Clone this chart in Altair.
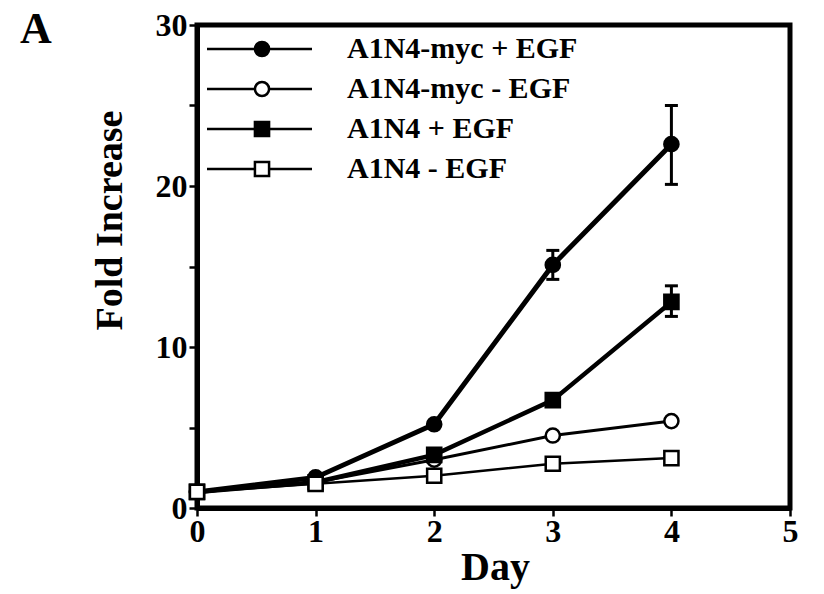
import altair as alt
import pandas as pd

# ---------------- data ----------------
series = ["A1N4-myc + EGF", "A1N4-myc - EGF", "A1N4 + EGF", "A1N4 - EGF"]
days = [0, 1, 2, 3, 4]
myc_egf = [1.0, 1.9, 5.2, 15.1, 22.6]
myc_noegf = [1.0, 1.6, 3.0, 4.5, 5.4]
a1n4_egf = [1.0, 1.6, 3.3, 6.7, 12.8]
a1n4_noegf = [1.0, 1.5, 2.0, 2.75, 3.1]

err_series = ["A1N4-myc + EGF", "A1N4-myc + EGF", "A1N4 + EGF"]
err_day = [3, 4, 4]
err_low = [14.2, 20.1, 11.9]
err_high = [16.0, 25.0, 13.8]

x_ticks = [0, 0.5, 1, 1.5, 2, 2.5, 3, 3.5, 4, 4.5, 5]
y_ticks = [0, 5, 10, 15, 20, 25, 30]

# ---------------- styles ----------------
FONT = "Liberation Serif"
shapes = ["circle", "circle", "square", "square"]
fills = ["black", "white", "black", "white"]
widths = [5, 3, 4.5, 2.5]

rows = []
for name, vals in zip(series, [myc_egf, myc_noegf, a1n4_egf, a1n4_noegf]):
    for d, v in zip(days, vals):
        rows.append({"series": name, "day": d, "value": v})
df = pd.DataFrame(rows)
err_df = pd.DataFrame({"series": err_series, "day": err_day,
                       "low": err_low, "high": err_high})
leg_df = pd.DataFrame({"series": series})

xenc = alt.X("day:Q", scale=alt.Scale(domain=[0, 5], nice=False),
             axis=alt.Axis(values=x_ticks, format="d",
                           labelExpr="datum.value % 1 === 0 ? datum.label : ''",
                           title="Day", titleFontSize=40, titlePadding=0,
                           titleX=298,
                           labelFontSize=32, labelPadding=0, labelFlush=False,
                           tickSize=8, grid=False))
yenc = alt.Y("value:Q", scale=alt.Scale(domain=[0, 30], nice=False),
             axis=alt.Axis(values=y_ticks, format="d",
                           labelExpr="datum.value % 10 === 0 ? datum.label : ''",
                           title="Fold Increase", titleFontSize=38,
                           titlePadding=26, titleY=195,
                           labelFontSize=32, labelPadding=2,
                           tickSize=8, grid=False))

shape_enc = alt.Shape("series:N", scale=alt.Scale(domain=series, range=shapes), legend=None)
fill_enc = alt.Fill("series:N", scale=alt.Scale(domain=series, range=fills), legend=None)

line_layers = []
for i, (name, w) in enumerate(zip(series, widths)):
    enc = dict(x=xenc, y=yenc) if i == 0 else dict(x="day:Q", y="value:Q")
    line_layers.append(
        alt.Chart(df).transform_filter(alt.datum.series == name)
        .mark_line(color="black", strokeWidth=w).encode(order="day:Q", **enc)
    )

err_rule = alt.Chart(err_df).mark_rule(color="black", strokeWidth=3).encode(
    x="day:Q", y="low:Q", y2="high:Q")
cap_lo = alt.Chart(err_df).mark_tick(color="black", thickness=3, size=13,
                                     orient="horizontal", opacity=1).encode(
    x="day:Q", y="low:Q")
cap_hi = alt.Chart(err_df).mark_tick(color="black", thickness=3, size=13,
                                     orient="horizontal", opacity=1).encode(
    x="day:Q", y="high:Q")
points = alt.Chart(df).mark_point(filled=True, stroke="black", strokeWidth=2.5,
                                  size=200, opacity=1).encode(
    x="day:Q", y="value:Q", shape=shape_enc, fill=fill_enc)

main = alt.layer(*line_layers, err_rule, cap_lo, cap_hi, points)

ly = alt.Y("series:N", scale=alt.Scale(domain=series, type="point", range=[24, 144], padding=0),
           axis=None)
leg_lines = alt.Chart(leg_df).mark_rule(color="black", strokeWidth=2.5).encode(
    x=alt.value(10), x2=alt.value(115), y=ly)
leg_pts = alt.Chart(leg_df).mark_point(filled=True, stroke="black", strokeWidth=2.5,
                                       size=200, opacity=1).encode(
    x=alt.value(65), y=ly, shape=shape_enc, fill=fill_enc)
leg_txt = alt.Chart(leg_df).mark_text(align="left", baseline="middle", font=FONT,
                                      fontWeight="bold", fontSize=30, color="black").encode(
    x=alt.value(150), y=ly, text="series:N")
legend = alt.layer(leg_lines, leg_pts, leg_txt)

chart = alt.layer(main, legend).resolve_scale(y="independent").properties(
    width=593, height=483,
    padding={"left": 197, "top": 25, "right": 34, "bottom": 86},
    autosize=alt.AutoSizeParams(type="none"),
    background="white",
    title=alt.TitleParams("A", anchor="start", frame="group", font=FONT,
                          fontSize=44, fontWeight="bold", color="black",
                          dx=-177, dy=43, offset=0),
).configure_view(stroke="black", strokeWidth=5).configure_axis(
    labelFont=FONT, titleFont=FONT, labelFontWeight="bold", titleFontWeight="bold",
    labelColor="black", titleColor="black", domainColor="black", tickColor="black",
    domainWidth=5, tickWidth=2.5, grid=False,
)

chart.save("out.html", embed_options={"renderer": "svg", "actions": False})
